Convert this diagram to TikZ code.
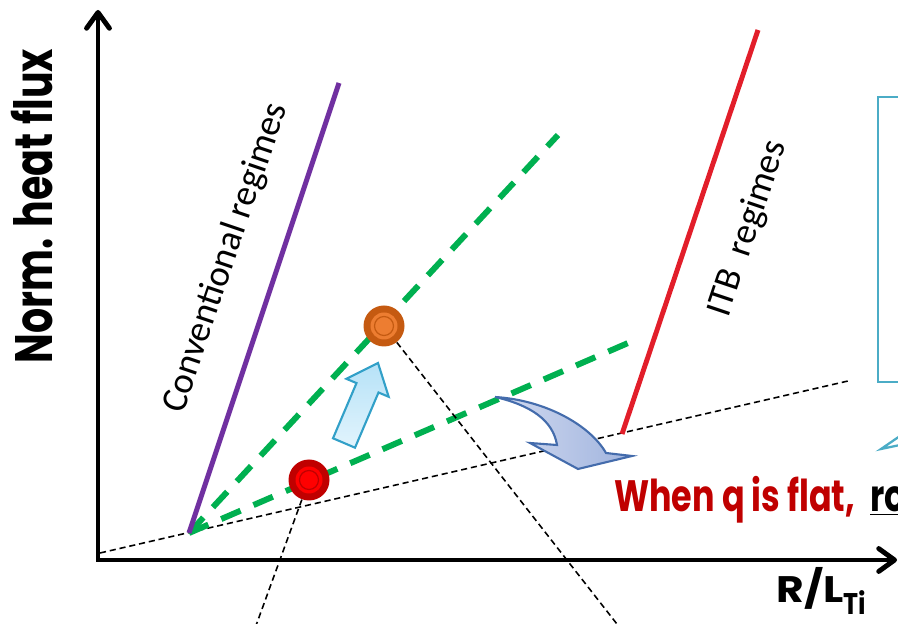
\documentclass[tikz,border=0pt]{standalone}
\usepackage{fontspec}
\usepackage{graphicx}
\usepackage{tikz}
\usetikzlibrary{arrows.meta}
\newfontfamily\gothfont{Poppins}
\newfontfamily\regfont{Carlito}
\definecolor{convpurple}{RGB}{112,48,160}
\definecolor{itbred}{RGB}{226,30,42}
\definecolor{guidegreen}{RGB}{0,176,80}
\definecolor{flatred}{RGB}{192,0,0}
\definecolor{boxcyan}{RGB}{75,172,198}
\definecolor{orangeout}{RGB}{197,90,17}
\definecolor{orangein}{RGB}{237,125,49}
\definecolor{redout}{RGB}{192,0,0}
\definecolor{redin}{RGB}{255,0,0}
\definecolor{upfilltop}{RGB}{182,226,247}
\definecolor{upfillbot}{RGB}{226,244,253}
\definecolor{updraw}{RGB}{50,160,200}
\definecolor{turnleft}{RGB}{210,218,240}
\definecolor{turnright}{RGB}{160,180,222}
\definecolor{turndraw}{RGB}{68,108,172}
\tikzset{
  axisline/.style={line width=2.8pt, line cap=rect,
    -{Straight Barb[length=9pt,width=13pt,round]}},
  regline/.style={line width=2.8pt, draw=#1},
  guideline/.style={line width=3.4pt, draw=guidegreen,
    dash pattern=on 12pt off 8pt},
  fineline/.style={line width=0.9pt, dash pattern=on 3.5pt off 2.2pt},
  dotmark/.style 2 args={circle, inner sep=0pt, minimum size=0.82cm,
    fill=#1, path picture={
      \fill[#2] (path picture bounding box.center) circle (0.27cm);
      \draw[#1, line width=0.7pt] (path picture bounding box.center) circle (0.19cm);}},
  regtext/.style={font=\regfont\fontsize{21}{25}\selectfont, inner sep=0pt},
  axistext/.style={font=\gothfont\bfseries\fontsize{30}{36}\selectfont, inner sep=0pt},
  flattext/.style={font=\gothfont\bfseries\fontsize{25}{30}\selectfont, inner sep=0pt},
  boxline/.style={draw=boxcyan, line width=1.3pt}
}
\begin{document}
\begin{tikzpicture}[x=0.02cm, y=0.02cm]
  \useasboundingbox (0,0) rectangle (898,624);
  \clip (0,0) rectangle (898,624);

  % reference points
  \coordinate (origin) at (98,64);
  \coordinate (xtip) at (897,64);
  \coordinate (ytip) at (98,614);
  \coordinate (apex) at (189,91);
  \coordinate (upguide) at (558,489);
  \coordinate (lowguide) at (635,284);
  \coordinate (convtop) at (339,541);
  \coordinate (itbfoot) at (622,190);
  \coordinate (itbtop) at (758,594);
  \coordinate (fluxstart) at (100,71);
  \coordinate (fluxend) at (848,243);
  \coordinate (lowend) at (250,-18);
  \coordinate (highend) at (631,-18);

  % zero-slope reference line
  \draw[fineline] (fluxstart) -- (fluxend);

  % guides
  \draw[guideline] (apex) -- (upguide);
  \draw[guideline] (apex) -- (lowguide);

  % regimes
  \draw[regline=convpurple] (apex) -- (convtop);
  \draw[regline=itbred] (itbfoot) -- (itbtop);
  \node[regtext, rotate=71.3] (convlab) at (226,366) {Conventional regimes};
  \node[regtext, rotate=71.5] (itblab) at (748,395) {ITB\ \ regimes};

  % operating points
  \node[dotmark={orangeout}{orangein}] (highpt) at (384,298) {};
  \node[dotmark={redout}{redin}] (lowpt) at (309,144) {};
  \draw[fineline] (lowpt) -- (lowend);
  \draw[fineline] (highpt) -- (highend);

  % block arrows
  \draw[updraw, line width=1.2pt, top color=upfilltop, bottom color=upfillbot]
    (355,176.3) -- (378.5,231.5) -- (388.7,227.2) -- (378,261)
    -- (346.3,245.2) -- (356.5,240.9) -- (333,185.7) -- cycle;
  \draw[turndraw, line width=1.2pt, left color=turnleft, right color=turnright]
    (495,227) .. controls (545,224) and (590,199) .. (606,171)
    -- (632,168) -- (578,155) -- (530,181) -- (557,179)
    .. controls (553,204) and (530,219) .. (495,227) -- cycle;

  % cropped note box
  \draw[boxline, fill=white] (878,527) rectangle (960,242);
  \draw[boxline] (900,188) -- (881,175) -- (900,179);

  % statement
  \node[flattext, anchor=base west] (flat) at (614,112)
    {\scalebox{0.76}[1]{\color{flatred}When q is flat,\hspace{0.45em}\color{black}\underline{ro}}};

  % axes
  \draw[axisline] (origin) -- (xtip);
  \draw[axisline] (origin) -- (ytip);
  \node[axistext, rotate=90, anchor=base] (ylab) at (52,418)
    {\scalebox{0.75}[1]{Norm. heat flux}};
  \node[axistext, font=\gothfont\bfseries\fontsize{21}{25}\selectfont, anchor=base west] (xlab) at (776,21)
    {\scalebox{1.15}[1]{R/L}\raisebox{-0.3em}{\fontsize{17}{20}\selectfont\scalebox{0.85}[1]{Ti}}};
\end{tikzpicture}
\end{document}
